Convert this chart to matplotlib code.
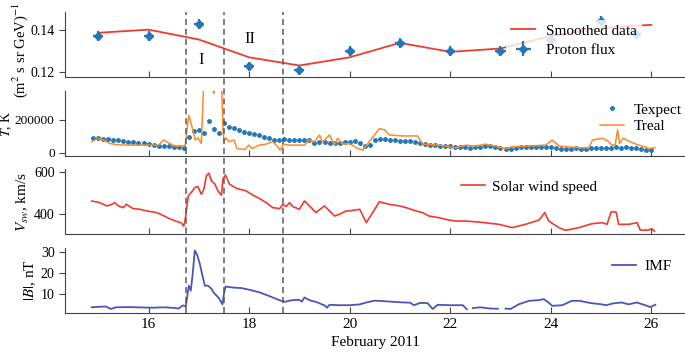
import numpy as np
import matplotlib
matplotlib.use('Agg')
import matplotlib.pyplot as plt
from matplotlib.lines import Line2D
from matplotlib.transforms import blended_transform_factory

plt.rcParams['font.family'] = ['Liberation Serif', 'DejaVu Serif']
plt.rcParams['mathtext.fontset'] = 'stix'
plt.rcParams['font.size'] = 11

# ---- proton flux (top panel)
flux_t = [15.0, 16.0, 17.0, 18.0, 19.0, 20.0, 21.0, 22.0, 23.0, 24.0, 25.0, 25.7]
flux_v = [0.1369, 0.1369, 0.1426, 0.1225, 0.1206, 0.1298, 0.1337, 0.1298, 0.1298, 0.1353, 0.1442, 0.1377]
smooth_t = [15.0, 16.0, 17.0, 18.0, 19.0, 20.0, 21.0, 22.0, 23.0, 24.0, 25.0, 26.0]
smooth_v = [0.1385, 0.1400, 0.1353, 0.1268, 0.1229, 0.1268, 0.1337, 0.1294, 0.1310, 0.1369, 0.1408, 0.1423]

# ---- temperatures
texp_t = np.round(np.arange(14.9, 26.05, 0.1), 2)
texp_v = [92000, 88000, 84000, 86000, 80000, 78000, 72000, 68000, 64000, 60000,
          56000, 52000, 46000, 42000, 40000, 38000, 36000, 32000, 26000, 95000,
          132000, 140000, 120000, 192000, 145000, 122000, 182000, 158000, 148000, 137000,
          128000, 120000, 112000, 105000, 97000, 90000, 80000, 76000, 82000, 78000,
          76000, 80000, 78000, 75000, 62000, 66000, 65000, 62000, 60000, 62000,
          64000, 68000, 72000, 56000, 40000, 48000, 78000, 85000, 82000, 80000,
          78000, 74000, 72000, 70000, 67000, 60000, 52000, 46000, 44000, 42000,
          40000, 38000, 36000, 34000, 32000, 30000, 34000, 36000, 38000, 40000,
          36000, 30000, 24000, 22000, 30000, 32000, 34000, 35000, 36000, 36000,
          36000, 32000, 26000, 22000, 24000, 25000, 26000, 25000, 25000, 26000,
          28000, 28000, 30000, 30000, 32000, 30000, 32000, 31000, 28000, 22000,
          16000, 18000]
treal_t = [14.87, 15.0, 15.1, 15.23, 15.4, 15.6, 15.9, 16.2, 16.3, 16.42, 16.52, 16.65, 16.73,
           16.8, 16.88, 16.93, 16.98, 17.05, 17.1, 17.2, 17.3, 17.38, 17.45, 17.48, 17.5,
           17.54, 17.6, 17.7, 17.76, 17.85, 17.92, 17.99, 18.06, 18.2, 18.34, 18.47, 18.57,
           18.62, 18.68, 18.8, 19.1, 19.2, 19.3, 19.4, 19.46, 19.6, 19.7, 19.76, 19.86, 20.0,
           20.13, 20.26, 20.36, 20.46, 20.59, 20.69, 20.79, 21.05, 21.35, 21.45, 21.78, 22.11,
           22.31, 22.5, 22.7, 22.9, 23.1, 23.23, 23.5, 23.9, 24.03, 24.17, 24.56, 24.76, 24.83,
           25.03, 25.13, 25.22, 25.28, 25.33, 25.37, 25.44, 25.62, 25.75, 25.88, 25.94, 26.07]
treal_v = [67000, 88000, 77000, 56000, 48000, 46000, 46000, 46000, 77000, 56000, 40000, 40000, 45000,
           228000, 140000, 77000, 90000, 56000, 450000, 500000, 360000, 480000, 450000, 140000, 67000,
           90000, 67000, 77000, 25000, 22000, 18000, 46000, 25000, 46000, 52000, 67000, 36000,
           15000, 52000, 46000, 46000, 77000, 67000, 108000, 65000, 108000, 46000, 88000, 52000, 56000,
           30000, 15000, 56000, 94000, 146000, 140000, 108000, 102000, 102000, 52000, 46000, 30000,
           46000, 40000, 52000, 40000, 25000, 36000, 40000, 46000, 77000, 40000, 30000, 30000, 77000,
           88000, 73000, 46000, 46000, 140000, 56000, 88000, 61000, 46000, 36000, 25000, 30000]

# ---- solar wind speed
vsw_t = [14.87, 15.03, 15.17, 15.27, 15.33, 15.4, 15.5, 15.56, 15.69, 15.83, 15.96, 16.16, 16.29,
         16.42, 16.56, 16.65, 16.70, 16.73, 16.79, 16.85, 16.92, 16.98, 17.05, 17.10, 17.15, 17.20,
         17.25, 17.32, 17.38, 17.45, 17.48, 17.53, 17.61, 17.75, 17.94, 18.08, 18.21, 18.34, 18.47,
         18.61, 18.67, 18.74, 18.80, 18.87, 19.0, 19.1, 19.2, 19.33, 19.5, 19.6, 19.7, 19.8, 19.93,
         20.0, 20.2, 20.33, 20.46, 20.59, 20.79, 20.99, 21.12, 21.32, 21.45, 21.58, 21.78, 21.91,
         22.11, 22.3, 22.57, 22.97, 23.23, 23.5, 23.77, 23.88, 23.96, 24.16, 24.29, 24.56, 24.82,
         25.02, 25.12, 25.2, 25.3, 25.35, 25.55, 25.72, 25.78, 25.94, 26.01, 26.06]
vsw_v = [461, 453, 437, 445, 453, 437, 429, 445, 424, 421, 413, 405, 391,
         375, 362, 355, 339, 372, 485, 502, 526, 531, 494, 518, 583, 596,
         559, 543, 510, 489, 567, 587, 543, 522, 510, 489, 473, 453, 429,
         424, 445, 434, 453, 434, 421, 461, 437, 405, 437, 413, 388, 397, 413,
         413, 421, 356, 405, 457, 445, 437, 429, 413, 405, 388, 380, 372,
         364, 364, 359, 348, 332, 348, 369, 405, 364, 332, 319, 332, 351,
         356, 348, 408, 408, 348, 348, 356, 320, 320, 327, 315]

# ---- IMF
imf_t = [14.87, 15.0, 15.15, 15.25, 15.35, 15.6, 15.9, 16.1, 16.3, 16.5, 16.6, 16.68, 16.74,
         16.76, 16.8, 16.84, 16.88, 16.92, 16.97, 17.02, 17.06, 17.12, 17.18, 17.25, 17.3, 17.4,
         17.47, 17.5, 17.53, 17.7, 17.85, 18.0, 18.2, 18.4, 18.55, 18.7, 18.85, 19.0, 19.05, 19.1,
         19.2, 19.35, 19.5, 19.55, 19.6, 19.8, 20.0, 20.2, 20.35, 20.5, 20.7, 21.0, 21.2, 21.28,
         21.4, 21.55, 21.65, 21.75, 22.0, 22.25, 22.33, 22.38, 22.45, 22.6, 22.8, 22.95, 23.02,
         23.1, 23.2, 23.37, 23.57, 23.75, 23.86, 23.95, 24.03, 24.23, 24.42, 24.57, 24.8, 24.99,
         25.1, 25.25, 25.41, 25.55, 25.71, 25.88, 25.98, 26.08]
imf_v = [3.6, 3.8, 4.0, 2.8, 3.6, 3.7, 3.5, 3.4, 3.6, 3.3, 3.0, 4.5, 4.0,
         7.0, 14.0, 11.5, 20.0, 30.8, 28.5, 24.4, 20.0, 13.9, 14.0, 12.5, 10.5, 8.0,
         5.0, 10.0, 13.5, 13.0, 12.8, 12.0, 10.8, 9.0, 7.5, 6.2, 7.0, 7.2, 6.3, 8.3,
         7.0, 6.0, 4.5, 3.4, 4.8, 4.6, 4.6, 5.0, 6.0, 6.8, 6.5, 6.0, 5.8, 4.6,
         5.7, 5.6, 2.8, 4.8, 4.6, 4.6, 2.7, np.nan, 3.2, 3.6, 3.0, 2.9, np.nan,
         3.0, 2.8, 5.1, 6.7, 7.0, 7.5, 6.0, 4.3, 4.6, 6.7, 6.7, 5.6, 5.1,
         4.6, 5.5, 5.9, 5.0, 5.9, 4.6, 3.7, 4.8]

events = [16.75, 17.5, 18.68]

red = '#ef3b2f'
blue = '#2377b6'
orange = '#fb8a2a'
imf_col = '#4b56b4'

fig, axes = plt.subplots(4, 1, sharex=True, figsize=(6.85, 3.54), dpi=100)
fig.subplots_adjust(left=0.095, right=1.0, top=0.966, bottom=0.116, hspace=0.2)
ax1, ax2, ax3, ax4 = axes

ax1.plot(smooth_t, smooth_v, color=red, lw=1.3, label='Smoothed data')
ax1.errorbar(flux_t, flux_v, xerr=0.1, yerr=0.0023, fmt='D', ms=4, color=blue,
             elinewidth=1.6, capsize=0, label='Proton flux')
ax1.set_ylim(0.1172, 0.1484)
ax1.set_yticks([0.12, 0.14])
ax1.set_ylabel('(m$^2$ s sr GeV)$^{-1}$', fontsize=10.5)
ax1.yaxis.set_label_coords(-0.056, 0.42)
ax1.text(17.05, 0.1253, 'I', ha='center', va='center', fontsize=12)
ax1.text(18.01, 0.1357, 'II', ha='center', va='center', fontsize=12)
ax1.legend(loc='upper right', bbox_to_anchor=(0.93, 0.885), borderaxespad=0,
           frameon=True, framealpha=0.8, edgecolor='none', fontsize=11,
           handlelength=1.6, handletextpad=0.7, labelspacing=0.35, borderpad=0.3)

ax2.plot(texp_t, texp_v, 'o', ms=2.5, color=blue, label='Texpect')
ax2.plot(treal_t, treal_v, color=orange, lw=1.1, label='Treal')
ax2.set_ylim(-20000, 379000)
ax2.set_yticks([0, 200000])
ax2.set_ylabel('$T$, K', fontsize=10)
ax2.yaxis.set_label_coords(-0.082, 0.5)
ax2.legend(loc='upper right', bbox_to_anchor=(0.995, 0.81), borderaxespad=0,
           frameon=False, fontsize=11, handlelength=1.6, handletextpad=0.65,
           labelspacing=0.2, borderpad=0)

ax3.plot(vsw_t, vsw_v, color=red, lw=1.2, label='Solar wind speed')
ax3.set_ylim(299, 616)
ax3.set_yticks([400, 600])
ax3.set_ylabel('$V_{sw}$, km/s', fontsize=11)
ax3.yaxis.set_label_coords(-0.055, 0.5)
ax3.legend(loc='upper right', bbox_to_anchor=(0.858, 0.83), borderaxespad=0,
           frameon=False, fontsize=11, handlelength=1.6, handletextpad=0.45, borderpad=0)

ax4.plot(imf_t, imf_v, color=imf_col, lw=1.3, label='IMF')
ax4.set_ylim(0.9, 32.2)
ax4.set_yticks([10, 20, 30])
ax4.set_ylabel('$|B|$, nT', fontsize=11)
ax4.yaxis.set_label_coords(-0.044, 0.5)
ax4.legend(loc='upper right', bbox_to_anchor=(0.978, 0.82), borderaxespad=0,
           frameon=False, fontsize=11, handlelength=1.6, handletextpad=0.5, borderpad=0)

ax4.set_xlim(14.34, 26.67)
ax4.set_xticks([16, 18, 20, 22, 24, 26])
ax4.set_xlabel('February 2011', fontsize=11)
ax4.xaxis.set_label_coords(0.5, -0.36)

for ax in axes:
    ax.spines['top'].set_visible(False)
    ax.spines['right'].set_visible(False)
    ax.spines['left'].set_color('#444444')
    ax.spines['bottom'].set_color('#444444')
    ax.tick_params(axis='x', direction='in', length=4, color='#444444', labelsize=11)
    ax.tick_params(axis='y', direction='out', length=4, color='#444444', labelsize=10)
ax2.tick_params(axis='y', labelsize=9.5)

# dashed event lines through all panels
trans = blended_transform_factory(ax4.transData, fig.transFigure)
y_bot = ax4.get_position().y0
y_top = ax1.get_position().y1
for x in events:
    fig.add_artist(Line2D([x, x], [y_bot, y_top], transform=trans, color='#5a5a5a',
                          lw=1.1, dashes=(4, 2.5), zorder=5))

plt.savefig('out.png', dpi=100)
